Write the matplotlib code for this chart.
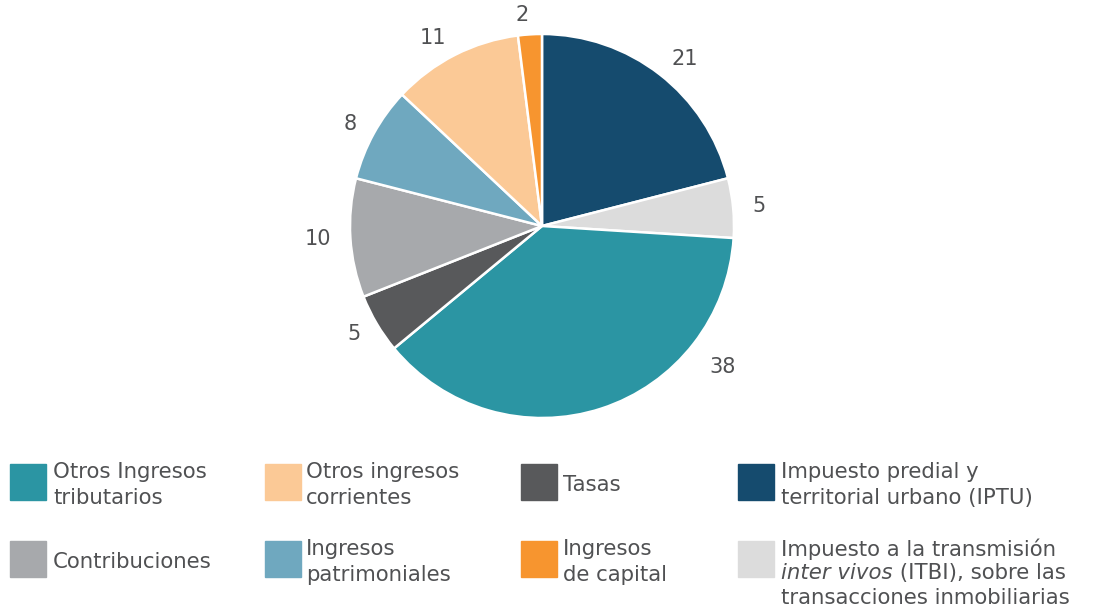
#pie chart of municipal revenue shares with a 4-column legend below
import numpy as np
import matplotlib.pyplot as plt
from matplotlib.patches import Rectangle

# data, clockwise from 12 o'clock
values = [21, 5, 38, 5, 10, 8, 11, 2]
colors = ['#154B6E', '#DCDCDC', '#2B95A3', '#58595B', '#A7A9AC', '#6FA8BF', '#FBC996', '#F7952F']

# legend entries (row, col) -> label, color
legend_labels = [
    ['Otros Ingresos\ntributarios', 'Otros ingresos\ncorrientes', 'Tasas', 'Impuesto predial y\nterritorial urbano (IPTU)'],
    ['Contribuciones', 'Ingresos\npatrimoniales', 'Ingresos\nde capital', None],
]
legend_colors = [
    ['#2B95A3', '#FBC996', '#58595B', '#154B6E'],
    ['#A7A9AC', '#6FA8BF', '#F7952F', '#DCDCDC'],
]

txt_color = '#505153'
plt.rcParams['font.family'] = ['DejaVu Sans']

W, H = 1099, 609
fig = plt.figure(figsize=(W / 100, H / 100), dpi=100)

# pie axes (center ~ (542,226), radius ~192 px)
cx, cy, r = 542, 226, 192
ax = fig.add_axes([(cx - r) / W, (H - cy - r) / H, 2 * r / W, 2 * r / H])
wedges, texts = ax.pie(values, colors=colors, startangle=90, counterclock=False,
                       labels=[str(v) for v in values], labeldistance=1.1,
                       wedgeprops=dict(edgecolor='white', linewidth=1.8),
                       textprops=dict(color=txt_color, fontsize=15))
# the big slice label sits up the arc in the original
a = np.deg2rad(-40)
texts[2].set_position((1.14 * np.cos(a), 1.14 * np.sin(a)))
ax.set_xlim(-1, 1)
ax.set_ylim(-1, 1)
ax.set_aspect('equal')
ax.axis('off')

# legend
sq_x = [10, 265, 521, 738]
txt_x = [53, 306, 563, 781]
sq_top = [464, 541]
sq = 36
fs = 15.3
for row in range(2):
    for col in range(4):
        x0 = sq_x[col]
        y0 = sq_top[row]
        fig.patches.append(Rectangle((x0 / W, (H - y0 - sq) / H), sq / W, sq / H,
                                     transform=fig.transFigure, color=legend_colors[row][col]))
        lab = legend_labels[row][col]
        if lab is not None:
            fig.text(txt_x[col] / W, (H - y0 - sq / 2 - 3) / H, lab, fontsize=fs, color=txt_color,
                     va='center', ha='left', linespacing=1.33)

# ITBI label with italic part
x = txt_x[3] / W
lh = 25
top = 538
t0 = fig.text(x, (H - top) / H, 'Impuesto a la transmisión', fontsize=fs, color=txt_color, va='top')
t1 = fig.text(x, (H - top - lh) / H, 'inter vivos', fontsize=fs, color=txt_color, va='top', style='italic')
ax.annotate(' (ITBI), sobre las', xy=(1, 0), xycoords=t1, va='bottom', ha='left',
            fontsize=fs, color=txt_color, annotation_clip=False)
fig.text(x, (H - top - 2 * lh) / H, 'transacciones inmobiliarias', fontsize=fs, color=txt_color, va='top')

fig.savefig('out.png', dpi=100)
